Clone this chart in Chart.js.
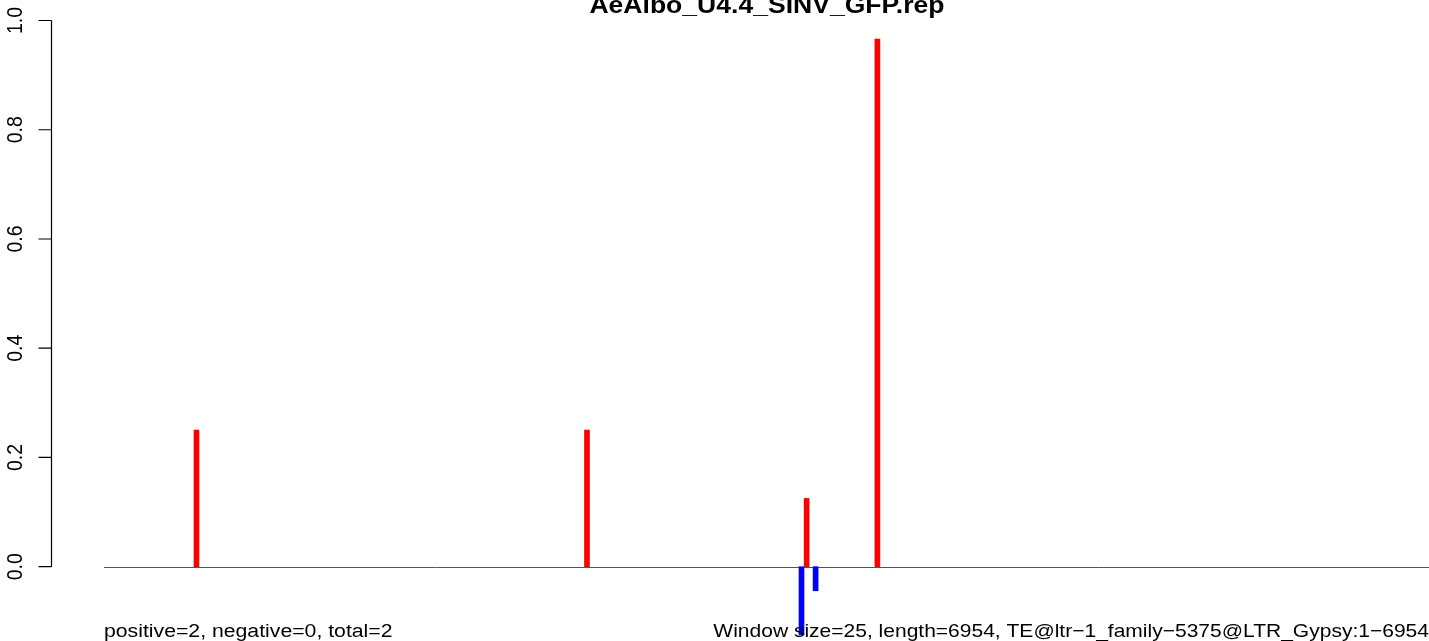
<!DOCTYPE html>
<html>
<head>
<meta charset="utf-8">
<title>AeAlbo_U4.4_SINV_GFP.rep</title>
<script src="https://cdn.jsdelivr.net/npm/chart.js@4.4.1/dist/chart.umd.min.js"></script>
<style>
  html, body { margin: 0; padding: 0; background: #fff; }
  #wrap { width: 1429px; height: 641px; }
</style>
</head>
<body>
<div id="wrap"><canvas id="chart" width="1429" height="641"></canvas></div>
<script>
const titleText = 'AeAlbo_U4.4_SINV_GFP.rep';
const seqLength = 6954;
const windowSize = 25;

// window positions (nt) and normalised read counts
const positivePos = [485, 2533, 3685, 4056];
const positiveVal = [0.25, 0.25, 0.125, 0.966];
const negativePos = [3658, 3732];
const negativeVal = [-0.125, -0.044];

const yTicks = [0, 0.2, 0.4, 0.6, 0.8, 1.0];
const yTickLabels = ['0.0', '0.2', '0.4', '0.6', '0.8', '1.0'];

const leftNote = 'positive=2, negative=0, total=2';
const rightNote = 'Window size=' + windowSize + ', length=' + seqLength +
    ', TE@ltr\u22121_family\u22125375@LTR_Gypsy:1\u2212' + seqLength;

const FONT = '"Liberation Sans", Arial, Helvetica, sans-serif';
const STRETCH = 1.13; // the source png is a bit wider than tall

function wideText(ctx, text, x, y, align, font) {
    ctx.save();
    ctx.font = font;
    ctx.fillStyle = '#000';
    ctx.translate(x, y);
    ctx.scale(STRETCH, 1);
    ctx.textAlign = align;
    ctx.textBaseline = 'alphabetic';
    ctx.fillText(text, 0, 0);
    ctx.restore();
}

// R style decorations: zero line, y axis, title and notes
const rPlotDecor = {
    id: 'rPlotDecor',
    beforeDatasetsDraw(chart) {
        const { ctx, scales: { x, y } } = chart;
        const y0 = Math.round(y.getPixelForValue(0)) + 0.5;
        ctx.save();
        ctx.strokeStyle = '#555555';
        ctx.lineWidth = 1;
        ctx.beginPath();
        ctx.moveTo(x.getPixelForValue(0), y0);
        ctx.lineTo(x.getPixelForValue(seqLength), y0);
        ctx.stroke();
        ctx.restore();
    },
    afterDraw(chart) {
        const { ctx, chartArea, scales: { x, y } } = chart;
        const axisX = chartArea.left + 0.5;
        const top = y.getPixelForValue(yTicks[yTicks.length - 1]);
        const bottom = y.getPixelForValue(yTicks[0]);

        ctx.save();
        ctx.strokeStyle = '#000';
        ctx.lineWidth = 1.2;
        ctx.beginPath();
        ctx.moveTo(axisX, top);
        ctx.lineTo(axisX, bottom);
        yTicks.forEach(t => {
            const py = y.getPixelForValue(t);
            ctx.moveTo(axisX - 13, py);
            ctx.lineTo(axisX, py);
        });
        ctx.stroke();

        ctx.font = '19.5px ' + FONT;
        ctx.fillStyle = '#000';
        yTicks.forEach((t, i) => {
            const py = y.getPixelForValue(t);
            ctx.save();
            ctx.translate(axisX - 29.5, py);
            ctx.rotate(-Math.PI / 2);
            ctx.scale(1, STRETCH);
            ctx.textAlign = 'center';
            ctx.textBaseline = 'alphabetic';
            ctx.fillText(yTickLabels[i], 0, 0);
            ctx.restore();
        });
        ctx.restore();

        wideText(ctx, titleText, x.getPixelForValue(seqLength / 2), 12.5, 'center', 'bold 23.5px ' + FONT);
        wideText(ctx, leftNote, x.getPixelForValue(0), chartArea.bottom - 4, 'left', '18.8px ' + FONT);
        wideText(ctx, rightNote, x.getPixelForValue(seqLength) - 1, chartArea.bottom - 4, 'right', '18.6px ' + FONT);
    }
};

new Chart(document.getElementById('chart'), {
    type: 'bar',
    data: {
        datasets: [{
            label: 'positive',
            data: positivePos.map((p, i) => ({ x: p, y: positiveVal[i] })),
            backgroundColor: '#FF0000'
        }, {
            label: 'negative',
            data: negativePos.map((p, i) => ({ x: p, y: negativeVal[i] })),
            backgroundColor: '#0000FF'
        }]
    },
    options: {
        responsive: false,
        animation: false,
        devicePixelRatio: 1,
        layout: { padding: { left: 51, right: 0, top: 0, bottom: 0 } },
        datasets: {
            bar: { barThickness: 5, grouped: false, borderWidth: 0 }
        },
        plugins: {
            legend: { display: false },
            tooltip: { enabled: false },
            title: { display: false }
        },
        scales: {
            x: {
                type: 'linear',
                display: false,
                offset: false,
                min: -278,
                max: 6949
            },
            y: {
                type: 'linear',
                display: false,
                min: -0.136,
                max: 1.0375
            }
        }
    },
    plugins: [rPlotDecor]
});
</script>
</body>
</html>
